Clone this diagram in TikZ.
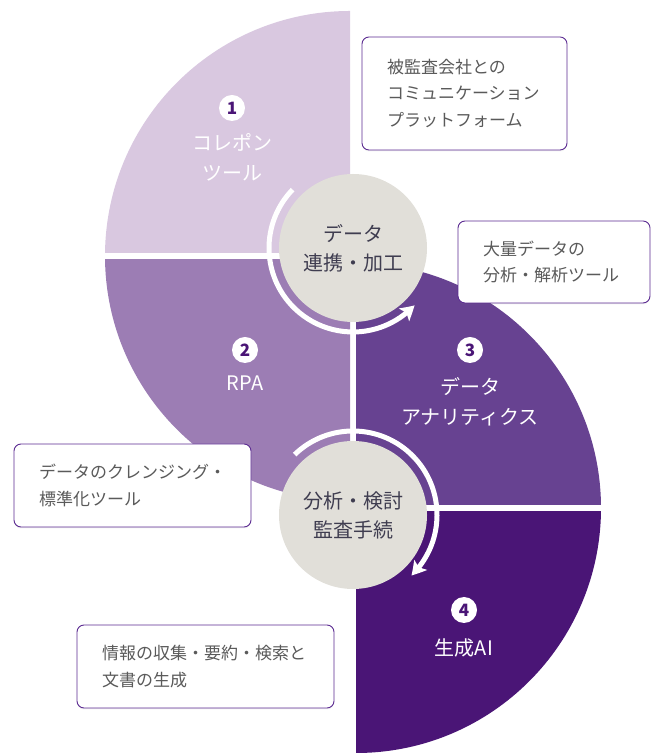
\documentclass[tikz,border=0pt]{standalone}
\usepackage{fontspec}
\setmainfont{Noto Sans CJK JP}
\usetikzlibrary{shapes,arrows.meta,bending,positioning,shadows}
\definecolor{qone}{HTML}{D9C8E0}
\definecolor{qtwo}{HTML}{9C7DB4}
\definecolor{qthree}{HTML}{674291}
\definecolor{qfour}{HTML}{4A1576}
\definecolor{hubfill}{HTML}{E1DFD9}
\definecolor{hubtext}{HTML}{3F3D50}
\definecolor{noteline}{HTML}{5B2A91}
\definecolor{notetext}{HTML}{5A5A5A}
\tikzset{hub/.style={circle,fill=hubfill,text=hubtext,minimum size=148pt,inner sep=0pt,align=center,font=\fontsize{20}{29}\selectfont}}
\tikzset{badge/.style={circle,fill=white,text=qfour,minimum size=26pt,inner sep=0pt,font=\fontsize{17}{17}\selectfont\bfseries}}
\tikzset{qtext/.style={text=white,align=center,inner sep=0pt,font=\fontsize{20}{30}\selectfont}}
\tikzset{note/.style={rectangle,draw=noteline,line width=0.9pt,fill=white,rounded corners=7pt,inner xsep=25pt,inner ysep=0pt,align=left,text=notetext,font=\fontsize{17}{26.5}\selectfont,drop shadow={shadow xshift=0pt,shadow yshift=-1.5pt,opacity=0.1}}}
\tikzset{gap/.style={draw=white,line width=6pt}}
\tikzset{flow/.style={draw=white,line width=5pt}}

\begin{document}
\begin{tikzpicture}[x=1pt,y=1pt]
    \useasboundingbox (0,0) rectangle (656,754);
    \coordinate (ltop) at (350,498);
    \coordinate (rbot) at (356,246);

    \fill[qone] (ltop) -- ++(90:245) arc[start angle=90,end angle=180,radius=245] -- cycle;
    \fill[qtwo] (ltop) -- ++(180:245) arc[start angle=180,end angle=270,radius=245] -- cycle;
    \fill[qthree] (rbot) -- ++(0:245) arc[start angle=0,end angle=90,radius=245] -- cycle;
    \fill[qfour] (rbot) -- ++(270:245) arc[start angle=270,end angle=360,radius=245] -- cycle;
    \path[gap] (ltop) -- ++(-250,0);
    \path[gap] (rbot) -- ++(250,0);

    \node[badge] (bone) at (232,646) {1};
    \node[qtext,below of=bone,node distance=49pt] (lone) {コレポン\\ツール};
    \node[badge] (btwo) at (245,404) {2};
    \node[qtext,below of=btwo,node distance=33pt] (ltwo) {RPA};
    \node[badge] (bthree) at (470,404) {3};
    \node[qtext,below of=bthree,node distance=52pt] (lthree) {データ\\アナリティクス};
    \node[badge] (bfour) at (464,144) {4};
    \node[qtext,below of=bfour,node distance=38pt] (lfour) {生成AI};

    \node[note,text width=155pt,minimum height=113pt] (nplatform) at (464.5,660.5) {被監査会社との\\コミュニケーション\\プラットフォーム};
    \node[note,text width=142pt,minimum height=82pt] (nanalysis) at (554,492) {大量データの\\分析・解析ツール};
    \node[note,text width=187pt,minimum height=83pt] (ncleansing) at (132.5,268.5) {データのクレンジング・\\標準化ツール};
    \node[note,text width=207pt,minimum height=83pt] (ngenerate) at (205.5,87.5) {情報の収集・要約・検索と\\文書の生成};

    \node[hub] (hubtop) at (353,506) {データ\\連携・加工};
    \node[hub] (hubbot) at (353,239) {分析・検討\\監査手続};

        \path[flow,-{Stealth[length=14pt,width=16pt,inset=3pt,bend]}] ([shift={(136:84)}]hubtop.center) arc[start angle=136,end angle=317,radius=84];
        \path[flow,-{Stealth[length=14pt,width=16pt,inset=3pt,bend]}] ([shift={(134:84)}]hubbot.center) arc[start angle=134,end angle=-46,radius=84];
\end{tikzpicture}
\end{document}
